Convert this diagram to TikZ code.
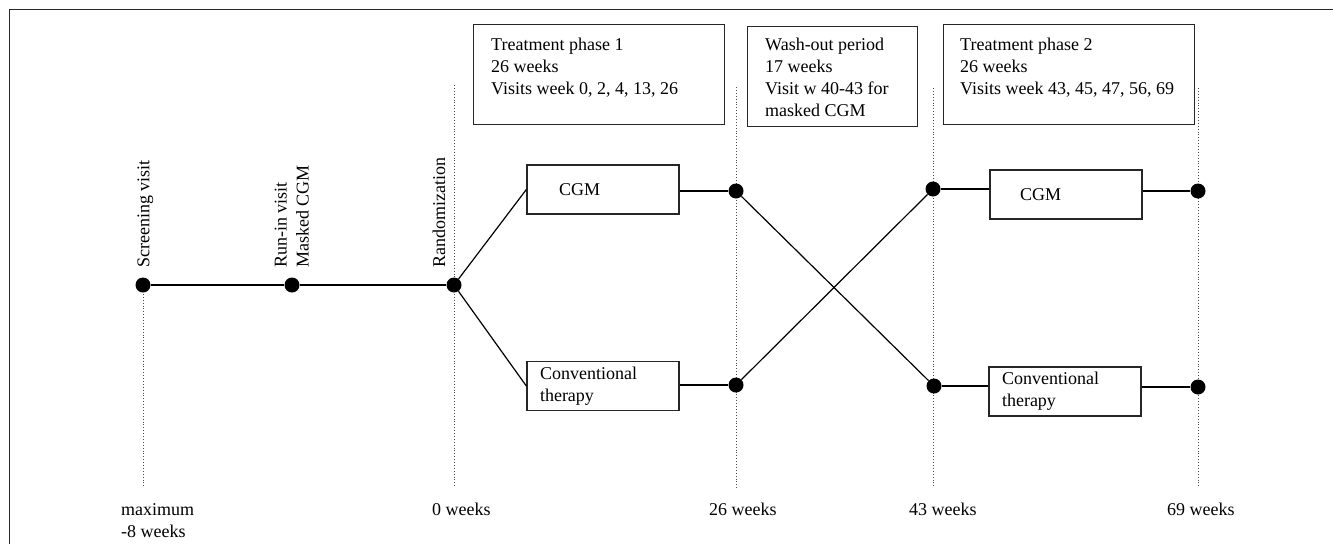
\documentclass[tikz,border=0pt]{standalone}
\usepackage{fontspec}
\setmainfont{Liberation Serif}
\usetikzlibrary{positioning}

\tikzset{
	dot/.style={shape=circle, fill=black, inner sep=0pt, minimum size=15pt},
	arm/.style={draw=black!85, line width=1.3pt, minimum width=152pt, minimum height=49pt, inner ysep=2pt, align=left},
	phase/.style={draw=black!85, line width=1.3pt, minimum height=100pt, anchor=north west},
	phasetext/.style={anchor=north west, align=left, inner sep=0pt},
	guide/.style={dotted, line width=0.9pt, black!70},
	link/.style={line width=1.2pt, black},
	weeks/.style={anchor=base west, align=left, inner sep=0pt},
	visit/.style={rotate=90, anchor=south west, align=left, inner sep=0pt}
}

\begin{document}
\begin{tikzpicture}[x=1pt, y=-1pt, font=\fontsize{18}{22}\selectfont]
	
	\useasboundingbox (0,0) rectangle (1333,544);
	\draw[line width=1.5pt, black!85] (9.5,544) -- (9.5,9.5) -- (1333,9.5);
	
	% phase boxes
	\node[phase, minimum width=251pt] (tpA) at (473,24) {};
	\node[phase, minimum width=170pt] (wash) at (747,26) {};
	\node[phase, minimum width=251pt] (tpB) at (943,24) {};
	\node[phasetext] (tpAtext) at (491,37.5) {Treatment phase 1\\26 weeks\\Visits week 0, 2, 4, 13, 26};
	\node[phasetext] (washtext) at (765,37.5) {Wash-out period\\17 weeks\\Visit w 40-43 for\\masked CGM};
	\node[phasetext] (tpBtext) at (960,37.5) {Treatment phase 2\\26 weeks\\Visits week 43, 45, 47, 56, 69};
	
	% guide lines
	\coordinate (gScrTop) at (143,291);  \coordinate (gScrBot) at (143,488);
	\coordinate (g0Top) at (454,85);     \coordinate (g0Bot) at (454,488);
	\coordinate (g26Top) at (736,87);    \coordinate (g26Bot) at (736,488);
	\coordinate (g43Top) at (933,88);    \coordinate (g43Bot) at (933,488);
	\coordinate (g69Top) at (1198,88);   \coordinate (g69Bot) at (1198,488);
	\draw[guide] (gScrTop) -- (gScrBot);
	\draw[guide] (g0Top) -- (g0Bot);
	\draw[guide] (g26Top) -- (g26Bot);
	\draw[guide] (g43Top) -- (g43Bot);
	\draw[guide] (g69Top) -- (g69Bot);
	
	% visits
	\node[dot] (scr) at (143,285) {};
	\node[dot] (runin) at (292,285) {};
	\node[dot] (rand) at (454,285) {};
	\node[dot] (d26a) at (736,191) {};
	\node[dot] (d26b) at (736,385) {};
	\node[dot] (d43a) at (933,189) {};
	\node[dot] (d43b) at (934,386) {};
	\node[dot] (d69a) at (1198,191) {};
	\node[dot] (d69b) at (1198,387) {};
	
	\node[visit] (scrlabel) at (153.5,268) {Screening visit};
	\node[visit] (runinlabel) at (309,268) {Run-in visit\\Masked CGM};
	\node[visit] (randlabel) at (445.5,268) {Randomization};
	
	% arms
	\node[arm, inner xsep=32pt, text width=88pt] (cgmA) at (603,189.5) {CGM};
	\node[arm, inner xsep=13pt, text width=126pt] (convA) at (603,386) {Conventional\\therapy};
	\node[arm, inner xsep=30pt, text width=92pt] (cgmB) at (1066,194.5) {CGM};
	\node[arm, inner xsep=13pt, text width=126pt] (convB) at (1065,391.5) {Conventional\\therapy};
	
	\path[link] (scr) edge (runin);
	\path[link] (runin) edge (rand);
	\path[link] (rand) edge (cgmA.west);
	\path[link] (rand) edge (convA.west);
	\path[link] (cgmA.east |- d26a) edge (d26a);
	\path[link] (convA.east |- d26b) edge (d26b);
	\path[link] (d26a) edge (d43b);
	\path[link] (d26b) edge (d43a);
	\path[link] (d43a) edge (d43a -| cgmB.west);
	\path[link] (cgmB.east |- d69a) edge (d69a);
	\path[link] (d43b) edge (d43b -| convB.west);
	\path[link] (convB.east |- d69b) edge (d69b);
	
	% time axis
	\node[weeks] (wkStart) at (121,537) {maximum\\-8 weeks};
	\node[weeks] (wk0) at (432,515) {0 weeks};
	\node[weeks] (wk26) at (709,515) {26 weeks};
	\node[weeks] (wk43) at (909,515) {43 weeks};
	\node[weeks] (wk69) at (1167,515) {69 weeks};
	
\end{tikzpicture}
\end{document}
